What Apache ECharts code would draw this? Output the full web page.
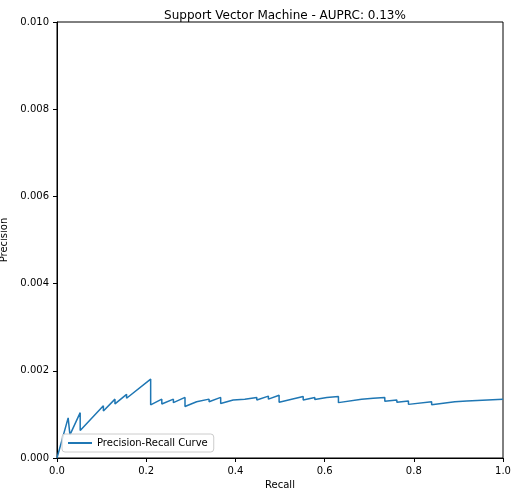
<!DOCTYPE html>
<html>
<head>
<meta charset="utf-8">
<script src="https://cdn.jsdelivr.net/npm/echarts@6/dist/echarts.min.js"></script>
<style>html,body{margin:0;padding:0;background:#fff}#main{width:518px;height:496px}</style>
</head>
<body>
<div id="main"></div>
<script>
// recall / precision (vertical drops share the same recall)
var recall = [0, 0.025, 0.029, 0.052, 0.052, 0.104, 0.104, 0.13, 0.13, 0.156, 0.156, 0.21, 0.21,
  0.235, 0.235, 0.261, 0.261, 0.287, 0.287, 0.313, 0.314, 0.341, 0.341, 0.367, 0.367, 0.395, 0.395,
  0.421, 0.421, 0.448, 0.448, 0.474, 0.474, 0.498, 0.498, 0.552, 0.552, 0.578, 0.578, 0.605, 0.605,
  0.631, 0.631, 0.683, 0.683, 0.709, 0.709, 0.735, 0.735, 0.762, 0.762, 0.788, 0.788, 0.84, 0.84,
  0.892, 0.892, 0.919, 0.919, 1.0];
var precision = [0, 0.00092, 0.00053, 0.00104, 0.00063, 0.0012, 0.00108, 0.00135, 0.00124, 0.00146, 0.00137, 0.00181, 0.00122,
  0.00135, 0.00124, 0.00135, 0.00127, 0.00139, 0.00118, 0.00129, 0.00127, 0.00135, 0.00129, 0.00139, 0.00125, 0.00133, 0.0013,
  0.00135, 0.00132, 0.00139, 0.00133, 0.00142, 0.00135, 0.00144, 0.00128, 0.00141, 0.00133, 0.00139, 0.00134, 0.00139, 0.00135,
  0.00141, 0.00127, 0.00135, 0.00132, 0.00137, 0.00134, 0.00139, 0.0013, 0.00133, 0.00128, 0.00131, 0.00123, 0.00129, 0.00122,
  0.00129, 0.00128, 0.00131, 0.00128, 0.00135];

var points = recall.map(function (r, i) { return [r, precision[i]]; });
var myChart = echarts.init(document.getElementById('main'));
var axisCommon = {
    axisLine: {show: true, lineStyle: {color: '#000'}},
    axisTick: {show: true, inside: false, length: 4, lineStyle: {color: '#000'}},
    splitLine: {show: false},
    axisLabel: {color: '#000', fontSize: 10, fontFamily: 'DejaVu Sans'},
    nameLocation: 'middle',
    nameTextStyle: {color: '#000', fontSize: 10, fontFamily: 'DejaVu Sans'}
};
var option = {
    animation: false,
    backgroundColor: '#fff',
    title: {
        text: 'Support Vector Machine - AUPRC: 0.13%',
        left: 280, top: 5, textAlign: 'center',
        textStyle: {fontSize: 12, fontWeight: 'normal', color: '#000', fontFamily: 'DejaVu Sans'}
    },
    grid: {left: 57, right: 15, top: 22, bottom: 38, outerBoundsMode: 'none', containLabel: false,
        show: true, borderColor: '#000', borderWidth: 1},
    legend: {
        data: ['Precision-Recall Curve'],
        left: 62, bottom: 44, orient: 'vertical',
        borderColor: '#ccc', borderWidth: 1, borderRadius: 3, padding: [4, 6],
        backgroundColor: 'rgba(255,255,255,0.8)',
        itemWidth: 24, itemHeight: 2, icon: 'rect',
        textStyle: {fontSize: 10, color: '#000', fontFamily: 'DejaVu Sans'}
    },
    xAxis: Object.assign({}, axisCommon, {
        type: 'value', min: 0, max: 1, interval: 0.2, name: 'Recall', nameGap: 20,
        axisLabel: Object.assign({}, axisCommon.axisLabel, {formatter: function (v) { return v.toFixed(1); }})
    }),
    yAxis: Object.assign({}, axisCommon, {
        type: 'value', min: 0, max: 0.01, interval: 0.002, name: 'Precision', nameGap: 40,
        axisLabel: Object.assign({}, axisCommon.axisLabel, {formatter: function (v) { return v.toFixed(3); }})
    }),
    series: [{
        name: 'Precision-Recall Curve',
        type: 'line',
        data: points,
        showSymbol: false,
        lineStyle: {color: '#1f77b4', width: 1.5},
        itemStyle: {color: '#1f77b4'}
    }]
};
myChart.setOption(option);
</script>
</body>
</html>
